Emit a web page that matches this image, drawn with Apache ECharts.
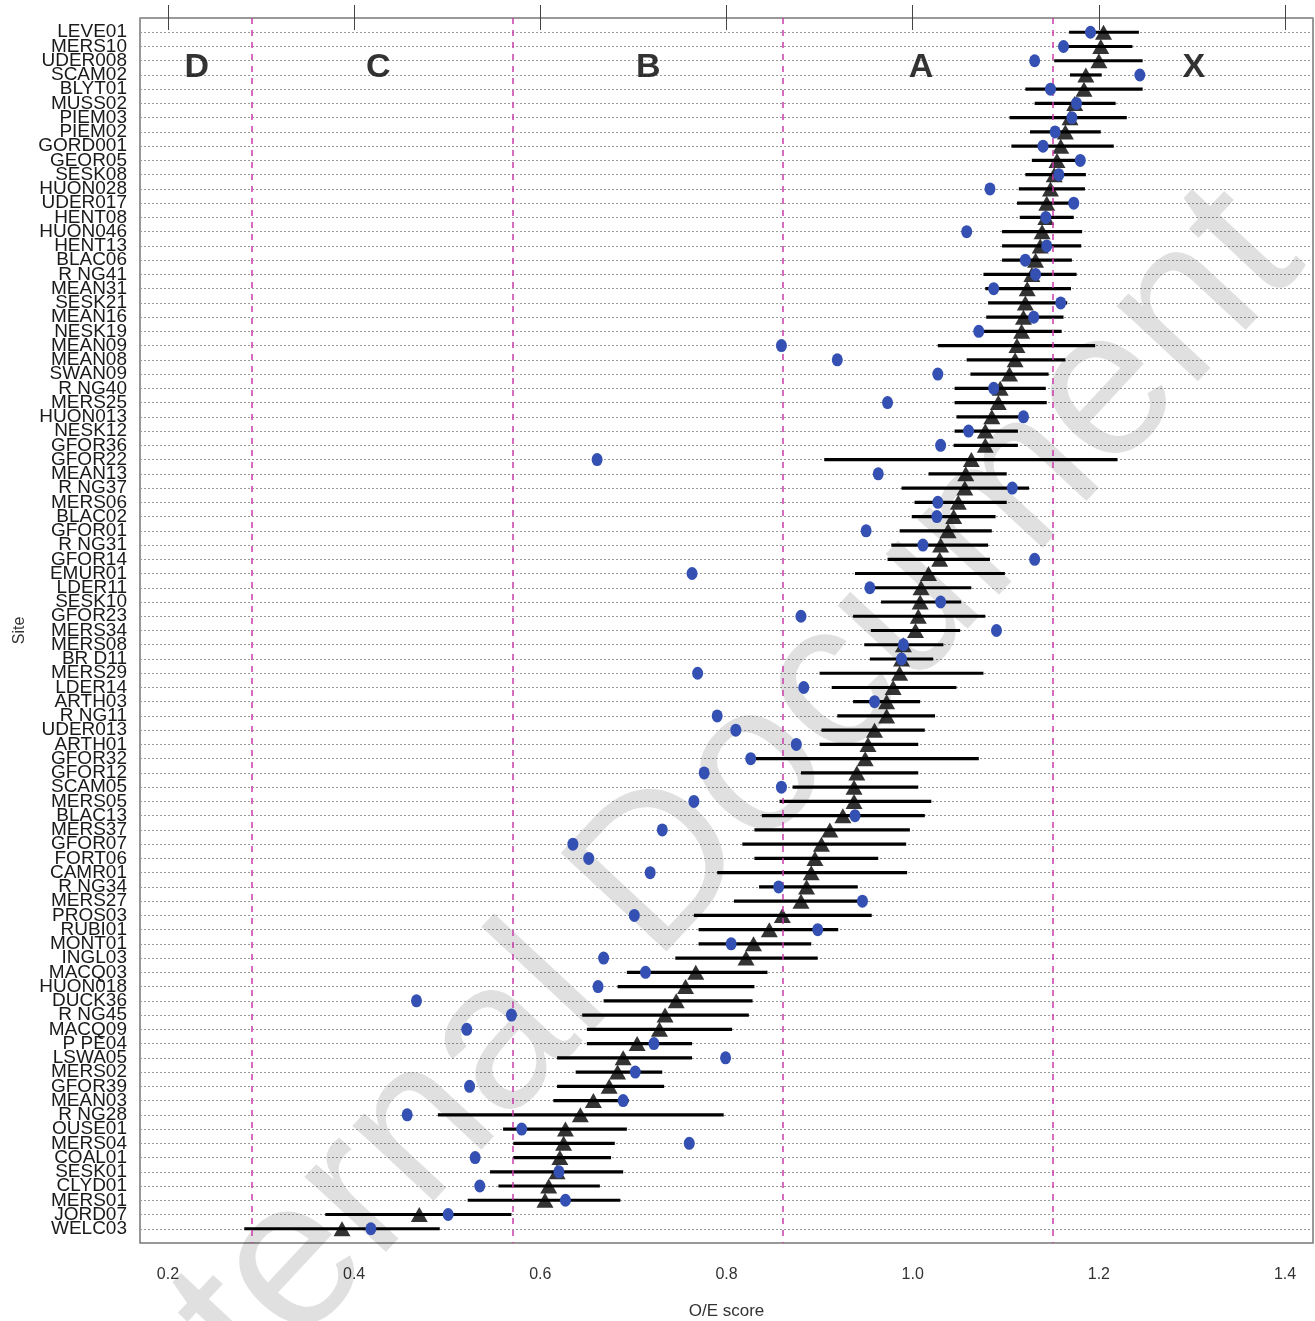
<!DOCTYPE html>
<html>
<head>
<meta charset="utf-8">
<script src="https://cdn.jsdelivr.net/npm/echarts@6/dist/echarts.min.js"></script>
<style>
  html, body { margin: 0; padding: 0; background: #fff; }
  #chart { width: 1315px; height: 1321px; }
</style>
</head>
<body>
<div id="chart"></div>
<script>
// sites, top to bottom
const sites = [
  'LEVE01', 'MERS10', 'UDER008', 'SCAM02', 'BLYT01', 'MUSS02', 'PIEM03', 'PIEM02', 'GORD001', 'GEOR05',
  'SESK08', 'HUON028', 'UDER017', 'HENT08', 'HUON046', 'HENT13', 'BLAC06', 'R NG41', 'MEAN31', 'SESK21',
  'MEAN16', 'NESK19', 'MEAN09', 'MEAN08', 'SWAN09', 'R NG40', 'MERS25', 'HUON013', 'NESK12', 'GFOR36',
  'GFOR22', 'MEAN13', 'R NG37', 'MERS06', 'BLAC02', 'GFOR01', 'R NG31', 'GFOR14', 'EMUR01', 'LDER11',
  'SESK10', 'GFOR23', 'MERS34', 'MERS08', 'BR D11', 'MERS29', 'LDER14', 'ARTH03', 'R NG11', 'UDER013',
  'ARTH01', 'GFOR32', 'GFOR12', 'SCAM05', 'MERS05', 'BLAC13', 'MERS37', 'GFOR07', 'FORT06', 'CAMR01',
  'R NG34', 'MERS27', 'PROS03', 'RUBI01', 'MONT01', 'INGL03', 'MACQ03', 'HUON018', 'DUCK36', 'R NG45',
  'MACQ09', 'P PE04', 'LSWA05', 'MERS02', 'GFOR39', 'MEAN03', 'R NG28', 'OUSE01', 'MERS04', 'COAL01',
  'SESK01', 'CLYD01', 'MERS01', 'JORD07', 'WELC03'
]

// mean O/E (triangles)
const oeMean = [
  1.205, 1.202, 1.200, 1.186, 1.184, 1.174, 1.169, 1.164, 1.159, 1.155,
  1.152, 1.148, 1.144, 1.143, 1.139, 1.137, 1.132, 1.128, 1.123, 1.121,
  1.119, 1.117, 1.112, 1.110, 1.104, 1.094, 1.092, 1.085, 1.078, 1.078,
  1.063, 1.057, 1.056, 1.049, 1.044, 1.038, 1.030, 1.029, 1.017, 1.009,
  1.008, 1.006, 1.003, 0.990, 0.988, 0.986, 0.979, 0.972, 0.972, 0.959,
  0.952, 0.949, 0.940, 0.937, 0.937, 0.925, 0.911, 0.902, 0.895, 0.891,
  0.886, 0.880, 0.860, 0.846, 0.829, 0.821, 0.767, 0.756, 0.746, 0.734,
  0.728, 0.704, 0.689, 0.683, 0.674, 0.657, 0.643, 0.627, 0.625, 0.621,
  0.618, 0.609, 0.605, 0.470, 0.387
]

// interval ends (black bars)
const ciLow = [
  1.168, 1.166, 1.152, 1.169, 1.121, 1.131, 1.104, 1.126, 1.106, 1.128,
  1.121, 1.114, 1.112, 1.115, 1.096, 1.096, 1.096, 1.076, 1.078, 1.081,
  1.079, 1.076, 1.027, 1.058, 1.062, 1.045, 1.045, 1.047, 1.045, 1.044,
  0.905, 1.017, 0.988, 1.002, 0.999, 0.986, 0.977, 0.973, 0.938, 0.957,
  0.966, 0.936, 0.955, 0.948, 0.954, 0.900, 0.913, 0.936, 0.919, 0.902,
  0.900, 0.830, 0.880, 0.871, 0.857, 0.838, 0.830, 0.817, 0.830, 0.790,
  0.835, 0.808, 0.765, 0.770, 0.770, 0.745, 0.693, 0.683, 0.668, 0.645,
  0.650, 0.650, 0.618, 0.638, 0.618, 0.614, 0.490, 0.560, 0.571, 0.571,
  0.546, 0.555, 0.522, 0.369, 0.282
]
const ciHigh = [
  1.243, 1.236, 1.247, 1.203, 1.247, 1.218, 1.230, 1.202, 1.216, 1.182,
  1.186, 1.185, 1.176, 1.173, 1.182, 1.181, 1.171, 1.176, 1.170, 1.166,
  1.162, 1.160, 1.196, 1.164, 1.146, 1.143, 1.144, 1.123, 1.113, 1.113,
  1.220, 1.101, 1.125, 1.101, 1.089, 1.085, 1.081, 1.083, 1.099, 1.063,
  1.052, 1.078, 1.051, 1.033, 1.022, 1.076, 1.047, 1.008, 1.024, 1.013,
  1.006, 1.071, 1.006, 1.006, 1.020, 1.013, 0.997, 0.993, 0.963, 0.994,
  0.941, 0.948, 0.956, 0.920, 0.891, 0.898, 0.844, 0.830, 0.828, 0.824,
  0.806, 0.763, 0.763, 0.731, 0.733, 0.695, 0.797, 0.693, 0.680, 0.676,
  0.689, 0.664, 0.686, 0.569, 0.492
]

// single observed O/E (blue dots)
const obsScore = [
  1.191, 1.162, 1.131, 1.244, 1.148, 1.176, 1.171, 1.153, 1.140, 1.180,
  1.157, 1.083, 1.173, 1.143, 1.058, 1.144, 1.121, 1.132, 1.087, 1.159,
  1.130, 1.071, 0.859, 0.919, 1.027, 1.087, 0.973, 1.119, 1.060, 1.030,
  0.661, 0.963, 1.107, 1.027, 1.026, 0.950, 1.011, 1.131, 0.763, 0.954,
  1.030, 0.880, 1.090, 0.990, 0.988, 0.769, 0.883, 0.959, 0.790, 0.810,
  0.875, 0.826, 0.776, 0.859, 0.765, 0.938, 0.731, 0.635, 0.652, 0.718,
  0.856, 0.946, 0.701, 0.898, 0.805, 0.668, 0.713, 0.662, 0.467, 0.569,
  0.521, 0.722, 0.799, 0.702, 0.524, 0.689, 0.457, 0.580, 0.760, 0.530,
  0.620, 0.535, 0.627, 0.501, 0.418
]

// band boundaries and letters
const bandBreaks = [0.288, 0.57, 0.86, 1.15]
const bandLetters = ['D', 'C', 'B', 'A', 'X']
const bandLetterX = [0.231, 0.426, 0.716, 1.009, 1.302]
const xTickValues = [0.2, 0.4, 0.6, 0.8, 1.0, 1.2, 1.4]

const rowCount = sites.length
const chart = echarts.init(document.getElementById('chart'), null, { renderer: 'canvas' })

chart.setOption({
  animation: false,
  backgroundColor: '#fff',
  textStyle: { fontFamily: 'Liberation Sans, Arial, sans-serif' },
  graphic: [{
    type: 'text',
    x: 680,
    y: 852,
    rotation: 47 * Math.PI / 180,
    z: 1,
    silent: true,
    style: {
      text: 'Internal Document',
      font: '210px "Liberation Sans", Arial, sans-serif',
      fill: 'rgba(0,0,0,0.12)',
      align: 'center',
      verticalAlign: 'middle'
    }
  }],
  grid: {
    left: 140,
    right: 2,
    top: 18,
    bottom: 78,
    outerBoundsMode: 'none',
    show: true,
    borderColor: '#777',
    borderWidth: 1.5,
    backgroundColor: 'transparent'
  },
  xAxis: [{
    type: 'value',
    min: 0.17,
    max: 1.43,
    position: 'bottom',
    name: 'O/E score',
    nameLocation: 'middle',
    nameGap: 60,
    nameTextStyle: { fontSize: 17, color: '#333' },
    axisLine: { show: false },
    splitLine: { show: false },
    axisTick: { show: true, inside: false, length: 12, customValues: xTickValues, lineStyle: { color: '#444' } },
    axisLabel: {
      customValues: xTickValues,
      margin: 24,
      fontSize: 16,
      color: '#333',
      formatter: v => v.toFixed(1)
    }
  }, {
    type: 'value',
    min: 0.17,
    max: 1.43,
    position: 'top',
    axisLine: { show: false },
    splitLine: { show: false },
    axisTick: { show: true, inside: false, length: 13, customValues: xTickValues, lineStyle: { color: '#444' } },
    axisLabel: { show: false }
  }],
  yAxis: {
    type: 'value',
    inverse: true,
    min: 0,
    max: rowCount + 1,
    interval: 1,
    name: 'Site',
    nameLocation: 'middle',
    nameRotate: 90,
    nameGap: 112,
    nameTextStyle: { fontSize: 16, color: '#333' },
    axisLine: { show: false },
    axisTick: { show: false },
    splitLine: { show: true, lineStyle: { color: '#999', type: [2, 2], width: 1 } },
    axisLabel: {
      margin: 13,
      fontSize: 19,
      color: '#1a1a1a',
      formatter: v => sites[v - 1] || ''
    }
  },
  series: [
    {
      name: 'range',
      type: 'custom',
      z: 3,
      renderItem(params, api) {
        const p1 = api.coord([api.value(0), api.value(2)])
        const p2 = api.coord([api.value(1), api.value(2)])
        return {
          type: 'line',
          shape: { x1: p1[0], y1: p1[1], x2: p2[0], y2: p2[1] },
          style: { stroke: '#000', lineWidth: 3.2 }
        }
      },
      encode: { x: [0, 1], y: 2 },
      data: sites.map((s, i) => [ciLow[i], ciHigh[i], i + 1]),
      markLine: {
        silent: true,
        symbol: 'none',
        label: { show: false },
        lineStyle: { color: '#c83ca8', type: [6, 6], width: 1.5 },
        data: bandBreaks.map(b => ({ xAxis: b }))
      }
    },
    {
      name: 'mean',
      type: 'scatter',
      z: 4,
      symbol: 'triangle',
      symbolSize: [17, 15],
      itemStyle: { color: '#000' },
      data: oeMean.map((v, i) => [v, i + 1])
    },
    {
      name: 'observed',
      type: 'scatter',
      z: 5,
      symbol: 'circle',
      symbolSize: [11, 13],
      itemStyle: { color: '#3350b2', opacity: 1 },
      data: obsScore.map((v, i) => [v, i + 1])
    },
    {
      name: 'bands',
      type: 'scatter',
      z: 6,
      silent: true,
      symbolSize: 1,
      itemStyle: { color: 'transparent' },
      label: {
        show: true,
        position: 'inside',
        fontSize: 34,
        fontWeight: 'bold',
        color: '#000',
        formatter: p => bandLetters[p.dataIndex]
      },
      data: bandLetterX.map(x => [x, 3.5])
    }
  ]
})
</script>
</body>
</html>
